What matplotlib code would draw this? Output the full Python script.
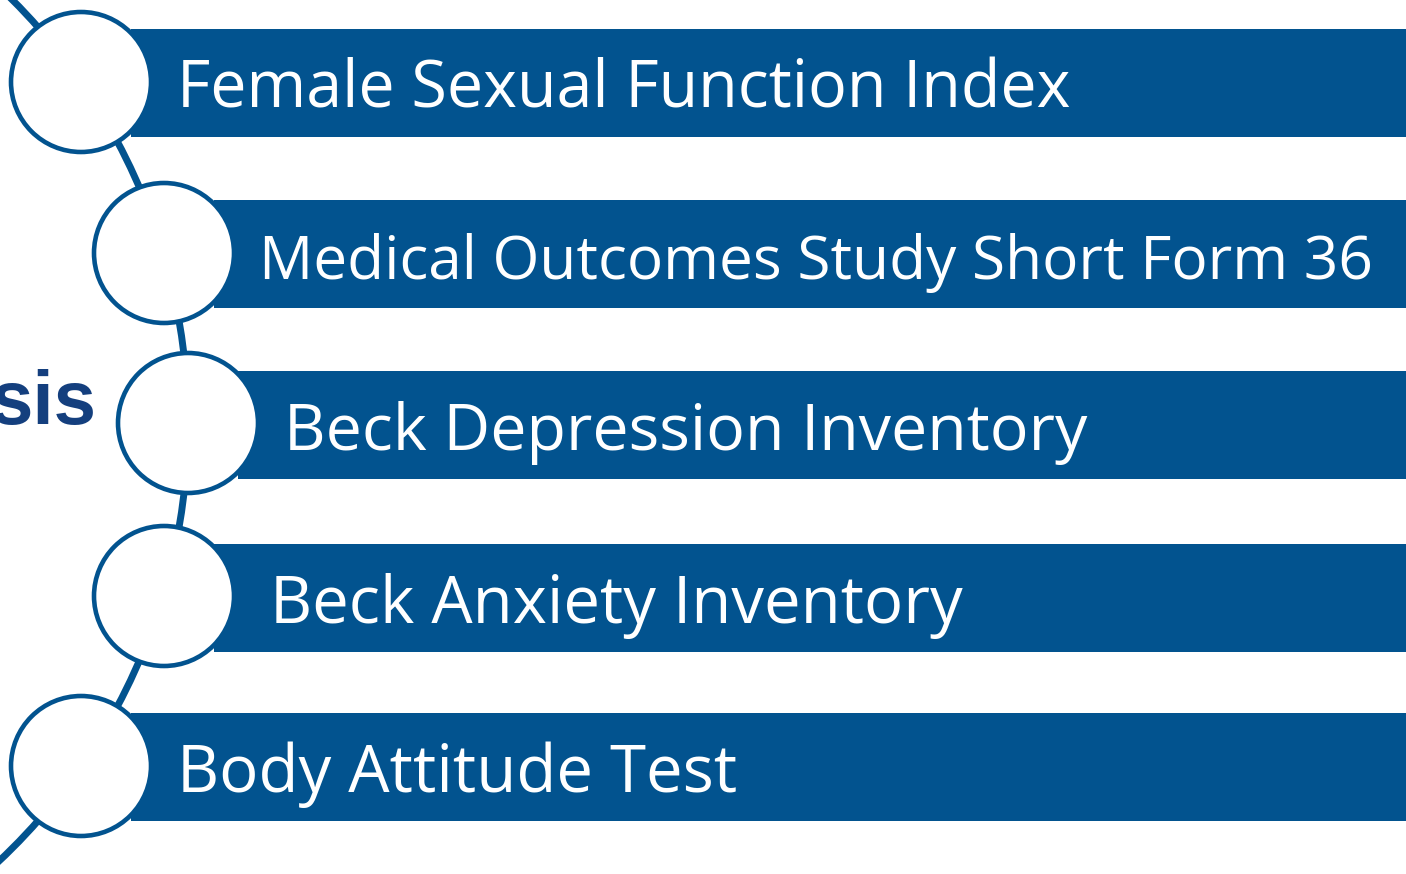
import numpy as np
import matplotlib
matplotlib.use("Agg")
import matplotlib.pyplot as plt
from matplotlib.patches import Circle, Rectangle, Arc

labels = ["Female Sexual Function Index",
          "Medical Outcomes Study Short Form 36",
          "Beck Depression Inventory",
          "Beck Anxiety Inventory",
          "Body Attitude Test"]
circle_x = [81, 164, 188, 164, 81]
circle_y = [82, 253, 423, 596, 766]
bar_top = [29, 200, 371, 544, 713]
text_x = [177, 259, 284, 270, 177]
text_right = [1072, 1374, 1088, 963, 737]

BLUE = "#02538f"
DARK = "#143f7e"

W, H = 1406, 874
fig = plt.figure(figsize=(W / 100, H / 100), dpi=100)
ax = fig.add_axes([0, 0, 1, 1])
ax.set_xlim(0, W)
ax.set_ylim(H, 0)
ax.axis("off")

# large connecting arc
arc = Arc((-412, 424), 1200, 1200, theta1=-60, theta2=60, color=BLUE, lw=5.0, zorder=1)
ax.add_patch(arc)

renderer = fig.canvas.get_renderer()
for cx, cy, bt, tx, tr, lab in zip(circle_x, circle_y, bar_top, text_x, text_right, labels):
    ax.add_patch(Rectangle((cx + 50, bt), W - cx - 50 + 5, 108, facecolor=BLUE,
                           edgecolor="none", zorder=2))
    ax.add_patch(Circle((cx, cy), 70, facecolor="white", edgecolor=BLUE, lw=3.3, zorder=3))
    t = ax.text(tx, bt + 79, lab, color="white", fontsize=45, family="Open Sans",
                va="baseline", ha="left", zorder=4)
    wpx = t.get_window_extent(renderer).width
    t.set_fontsize(45 * (tr - tx) / wpx)

ax.text(96, 424, "sis", color=DARK, fontsize=55, family="Liberation Sans",
        fontweight="bold", ha="right", va="baseline", zorder=4)

fig.savefig("out.png", dpi=100)
